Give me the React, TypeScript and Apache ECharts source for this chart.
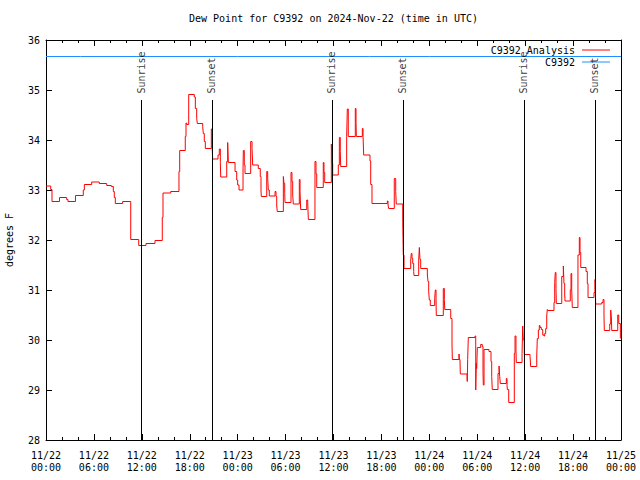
import React, { useEffect, useRef } from "react";
import * as echarts from "echarts";

// Hours since 2024-11-22 00:00 UTC, and dew point (°F) of the analysis (step data)
const analysisHours = [
  0, 0.59, 0.75, 1.69, 2.59, 2.75, 3.69, 4.67, 4.8, 5.72, 6.67, 7.6, 8.18, 8.43, 8.55, 8.68, 9.6, 10.61, 11.61,
  12.52, 13.65, 14.56, 14.65, 15.61, 16.65, 16.74, 17.44, 17.53, 17.62, 17.87, 18.57, 18.7, 18.87, 18.95, 19.62,
  19.7, 19.82, 19.95, 20.7, 20.79, 20.87, 21.54, 21.7, 21.83, 21.88, 22.63, 22.75, 22.83, 23.67, 23.88, 24.0,
  24.17, 24.67, 24.71, 24.83, 24.92, 25.63, 25.8, 25.88, 26.58, 26.83, 26.92, 26.96, 27.64, 27.76, 27.84, 27.96,
  28.68, 28.8, 28.89, 28.96, 29.72, 29.8, 29.89, 29.93, 30.68, 30.8, 30.89, 30.97, 31.72, 31.81, 31.89, 32.65,
  32.77, 32.85, 33.68, 33.81, 33.9, 34.72, 34.81, 34.9, 35.73, 35.81, 35.9, 36.6, 36.73, 36.85, 36.9, 37.65,
  37.73, 37.85, 38.73, 38.82, 38.86, 39.61, 39.7, 39.78, 40.57, 40.66, 40.82, 42.74, 42.83, 42.91, 43.61, 43.79,
  43.86, 44.67, 44.74, 44.83, 45.67, 45.74, 45.83, 45.92, 46.04, 46.08, 46.67, 46.75, 46.83, 46.92, 47.75, 47.83,
  47.92, 48.0, 48.12, 48.67, 48.75, 48.84, 48.87, 49.75, 49.88, 49.93, 50.68, 50.84, 50.88, 51.72, 51.75, 51.84,
  51.88, 52.72, 52.75, 52.8, 52.88, 53.72, 53.81, 53.88, 53.93, 54.01, 54.43, 54.63, 54.72, 54.76, 54.85, 55.47,
  55.72, 55.81, 55.88, 56.6, 56.73, 56.81, 56.89, 57.64, 57.73, 57.77, 57.94, 58.64, 58.73, 58.85, 58.89, 59.61,
  59.69, 59.77, 59.89, 60.61, 60.69, 61.45, 61.52, 61.65, 61.77, 61.86, 62.02, 62.2, 62.36, 62.45, 62.57, 62.7,
  62.77, 62.82, 63.61, 63.7, 63.77, 63.86, 63.9, 64.58, 64.78, 64.86, 64.95, 64.99, 65.65, 65.74, 65.83, 65.9,
  66.61, 66.78, 66.87, 66.96, 67.62, 67.78, 67.87, 68.62, 68.75, 68.83, 69.59, 69.75, 69.87, 69.91, 70.59, 70.71,
  70.79, 70.84, 71.59, 71.72, 71.92, 72.0,
];
const analysisValues = [
  33.08, 33.01, 32.77, 32.85, 32.81, 32.77, 32.89, 33.0, 33.11, 33.16, 33.13, 33.09, 33.07, 32.97, 32.85, 32.73,
  32.77, 32.01, 31.89, 31.93, 31.99, 32.45, 32.94, 32.97, 33.37, 33.79, 34.07, 34.34, 34.31, 34.91, 34.86, 34.63,
  34.43, 34.33, 34.27, 34.13, 33.97, 33.83, 34.22, 33.9, 33.62, 33.7, 33.82, 33.55, 33.26, 33.57, 33.95, 33.55,
  33.37, 33.2, 33.1, 33.0, 33.4, 33.79, 33.5, 33.33, 33.97, 33.83, 33.5, 33.43, 33.27, 33.0, 32.87, 33.37, 33.23,
  33.0, 32.88, 32.97, 32.87, 32.68, 32.57, 33.27, 33.13, 32.93, 32.75, 33.35, 33.17, 32.9, 32.72, 33.21, 32.97,
  32.61, 32.8, 32.75, 32.41, 33.57, 33.32, 33.05, 33.55, 33.35, 33.15, 33.92, 33.53, 33.3, 33.5, 34.05, 33.77,
  33.47, 34.07, 34.62, 34.07, 34.63, 34.35, 34.07, 34.23, 34.07, 33.7, 33.58, 33.11, 32.73, 32.78, 32.7, 32.63,
  33.23, 32.97, 32.72, 32.35, 31.7, 31.43, 31.6, 31.73, 31.63, 31.53, 31.37, 31.29, 31.6, 31.85, 31.61, 31.43,
  31.32, 31.17, 30.97, 30.8, 30.69, 30.83, 31.0, 30.82, 30.49, 31.03, 30.81, 30.61, 30.43, 29.92, 29.61, 29.72,
  29.61, 29.58, 29.32, 29.27, 29.17, 29.61, 30.05, 30.08, 29.0, 29.53, 29.43, 29.85, 29.91, 29.87, 29.37, 29.1,
  29.81, 29.77, 29.57, 29.27, 29.01, 29.33, 29.48, 29.27, 29.13, 29.23, 29.09, 29.01, 28.75, 29.73, 30.08, 29.8,
  29.55, 29.73, 30.28, 30.0, 29.71, 29.67, 29.47, 29.68, 30.03, 30.2, 30.29, 30.25, 30.21, 30.1, 30.08, 30.13,
  30.23, 30.48, 30.61, 30.59, 30.75, 31.15, 31.35, 31.03, 30.73, 31.27, 31.48, 31.13, 30.92, 30.78, 31.0, 31.33,
  31.0, 30.65, 31.7, 32.05, 31.75, 31.45, 31.37, 31.13, 30.85, 30.95, 31.21, 30.72, 30.75, 30.81, 30.5, 30.19,
  30.32, 30.6, 30.47, 30.19, 30.5, 30.33, 30.03, 30.03,
];

// Station observations (flat line near the top)
const stationHours = [0, 4.3, 24.0, 40.5, 48.0, 72.0];
const stationValues = [35.67, 35.67, 35.67, 35.67, 35.67, 35.67];

// Sunrise / sunset times (hours since start)
const sunEventHours = [11.96, 20.82, 35.85, 44.74, 59.89, 68.78];
const sunEventNames = ["Sunrise", "Sunset", "Sunrise", "Sunset", "Sunrise", "Sunset"];

const xMin = 0;
const xMax = 72;
const xInterval = 6;
const yMin = 28;
const yMax = 36;
const sunLineTop = 34.8;
const sunLabelBase = 34.92;
const startMonth = 11;
const startDay = 22;

const FONT = "DejaVu Sans Mono";

function pad(n: number) {
  return n < 10 ? "0" + n : "" + n;
}

export default function App() {
  const ref = useRef<HTMLDivElement>(null);

  useEffect(() => {
    if (!ref.current) return;
    const chart = echarts.init(ref.current, null, { renderer: "svg" });

    const analysisData = analysisHours.map((h, i) => [h, analysisValues[i]]);
    const stationData = stationHours.map((h, i) => [h, stationValues[i]]);

    const xAxisCommon = {
      type: "value" as const,
      min: xMin,
      max: xMax,
      interval: xInterval,
      splitLine: { show: false },
      axisLine: { show: true, onZero: false, lineStyle: { color: "#000", width: 1 } },
      axisTick: { show: true, inside: true, length: 6, lineStyle: { color: "#000" } },
      minorTick: { show: true, splitNumber: 3, length: 3, lineStyle: { color: "#000" } },
    };
    const yAxisCommon = {
      type: "value" as const,
      min: yMin,
      max: yMax,
      interval: 1,
      splitLine: { show: false },
      axisLine: { show: true, onZero: false, lineStyle: { color: "#000", width: 1 } },
      axisTick: { show: true, inside: true, length: 6, lineStyle: { color: "#000" } },
    };

    chart.setOption({
      animation: false,
      backgroundColor: "#fff",
      textStyle: { fontFamily: FONT },
      title: {
        text: "Dew Point for C9392 on 2024-Nov-22 (time in UTC)",
        left: 184,
        top: 8,
        textStyle: { fontFamily: FONT, fontSize: 10, fontWeight: "normal", color: "#000" },
      },
      legend: {
        orient: "vertical",
        right: 25,
        top: 39,
        align: "right",
        icon: "rect",
        itemWidth: 28,
        itemHeight: 1,
        itemGap: 0,
        data: ["C9392 Analysis", "C9392"],
        textStyle: { fontFamily: FONT, fontSize: 10, lineHeight: 12, color: "#000", padding: [0, 2, 0, 0] },
      },
      grid: { left: 46, right: 19, top: 40, bottom: 40, containLabel: false, outerBoundsMode: "none" },
      xAxis: [
        {
          ...xAxisCommon,
          position: "bottom",
          axisLabel: {
            color: "#000",
            fontFamily: FONT,
            fontSize: 10,
            lineHeight: 12,
            margin: 9,
            formatter: (v: number) => {
              const day = startDay + Math.floor(v / 24);
              const hr = Math.round(v % 24);
              return pad(startMonth) + "/" + pad(day) + "\n" + pad(hr) + ":00";
            },
          },
        },
        {
          ...xAxisCommon,
          position: "top",
          axisLabel: { show: false },
        },
      ],
      yAxis: [
        {
          ...yAxisCommon,
          position: "left",
          name: "degrees F",
          nameLocation: "middle",
          nameGap: 32,
          nameRotate: 90,
          nameTextStyle: { fontFamily: FONT, fontSize: 10, color: "#000" },
          axisLabel: { color: "#000", fontFamily: FONT, fontSize: 10, margin: 6 },
        },
        {
          ...yAxisCommon,
          position: "right",
          axisLabel: { show: false },
        },
      ],
      series: [
        {
          name: "C9392 Analysis",
          type: "line",
          step: "end",
          data: analysisData,
          showSymbol: false,
          symbol: "none",
          color: "#ff0000",
          lineStyle: { color: "#ff0000", width: 1 },
          z: 3,
          markLine: {
            silent: true,
            symbol: ["none", "none"],
            label: { show: false },
            lineStyle: { color: "#000", width: 1, type: "solid" },
            data: sunEventHours.map((h) => [{ coord: [h, yMin] }, { coord: [h, sunLineTop] }]),
          },
        },
        {
          name: "C9392",
          type: "line",
          data: stationData,
          showSymbol: false,
          symbol: "none",
          color: "#1e8fff",
          lineStyle: { color: "#1e8fff", width: 1 },
          z: 2,
        },
        {
          name: "sun",
          type: "scatter",
          data: sunEventHours.map((h, i) => ({ value: [h, sunLabelBase], name: sunEventNames[i] })),
          symbolSize: 1,
          itemStyle: { color: "transparent" },
          silent: true,
          z: 4,
          label: {
            show: true,
            position: [0, 0],
            rotate: 90,
            align: "left",
            verticalAlign: "middle",
            formatter: (p: any) => p.name,
            fontFamily: FONT,
            fontSize: 10,
            color: "#000",
          },
        },
      ],
    });

    return () => {
      chart.dispose();
    };
  }, []);

  return (
    <div
      ref={ref}
      style={{ position: "fixed", left: 0, top: 0, width: 640, height: 480, background: "#fff" }}
    />
  );
}
